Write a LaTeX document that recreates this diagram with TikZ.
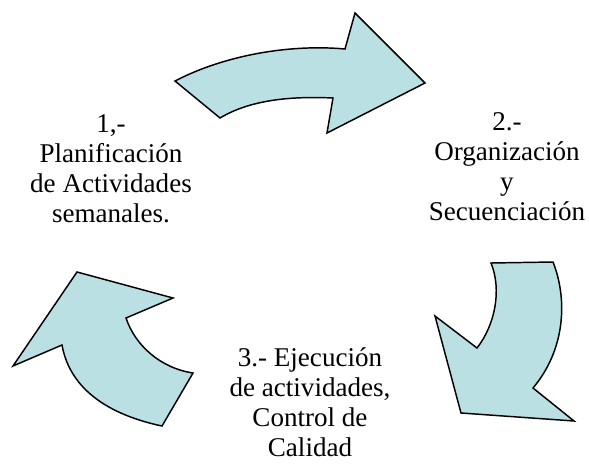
\documentclass[tikz,border=0pt]{standalone}
\usepackage{fontspec}
\setmainfont{Liberation Serif}
\usepackage{tikz}
\definecolor{arrowfill}{RGB}{187,224,227}

\begin{document}
\begin{tikzpicture}[%
            x=0.75pt,
            y=-0.75pt,
            bigarrow/.style={%
            	fill=arrowfill,
            	draw=black,
            	line width=1.1pt,
            	line join=miter
            },
            stage/.style={%
            	align=center,
            	inner sep=0pt,
            	font=\fontsize{20.3}{22.5}\selectfont
            }
            ]
            \useasboundingbox (0,0) rectangle (589,464);
            \node[stage] (1) at (111,169)    {1,-\\Planificación\\de Actividades\\semanales.};
            \node[stage] (2) at (507,167)    {2.-\\Organización\\y\\Secuenciación};
            \node[stage] (3) at (310,402)    {3.- Ejecución\\de actividades,\\Control de\\Calidad};
            
            % arrow 1 -> 2
            \draw[bigarrow] (175,81) -- (220,118)
            .. controls (250,100) and (290,96) .. (333,98)
            -- (327,133) -- (425,83) -- (355,13) -- (345,49)
            .. controls (290,44) and (225,55) .. cycle;
            % arrow 2 -> 3
            \draw[bigarrow] (491,263) -- (553,262)
            .. controls (568,300) and (565,350) .. (533,388)
            -- (574,421) -- (461,413) -- (435,316) -- (477,348)
            .. controls (495,325) and (502,290) .. cycle;
            % arrow 3 -> 1
            \draw[bigarrow] (77,272) -- (173,298) -- (126,318)
            .. controls (135,345) and (160,368) .. (193,373)
            -- (162,426)
            .. controls (110,415) and (70,390) .. (62,345)
            -- (13,366) -- cycle;
\end{tikzpicture}
\end{document}
